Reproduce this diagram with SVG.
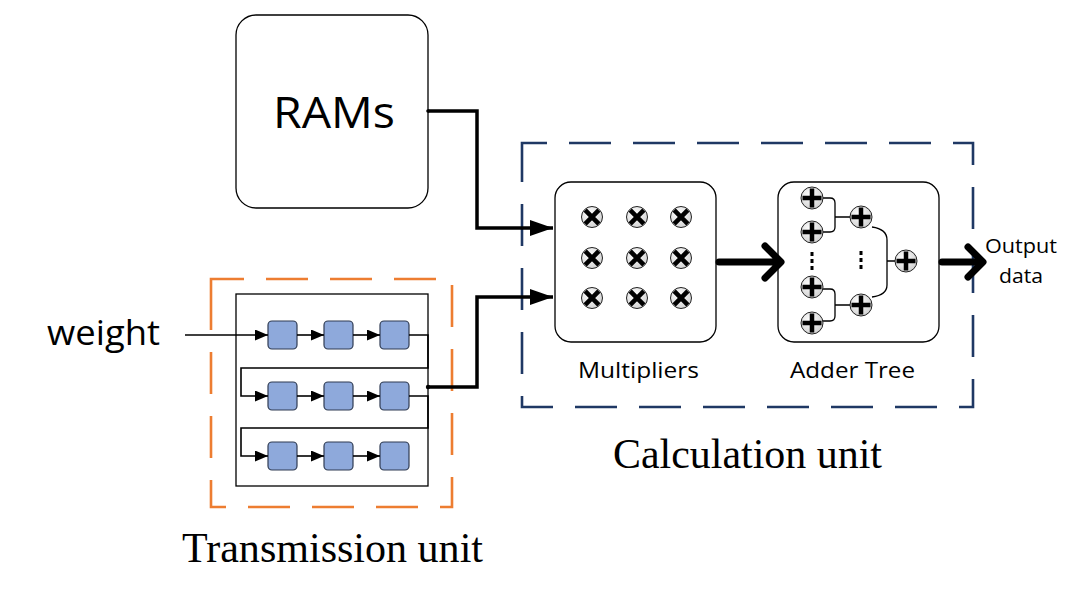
<svg xmlns="http://www.w3.org/2000/svg" width="1074" height="589" viewBox="0 0 1074 589">
<style>
.sans{font-family:"Open Sans","Noto Sans","Liberation Sans",sans-serif;fill:#000}
.serif{font-family:"Liberation Serif","Times New Roman",serif;fill:#000}
.box{fill:#fff;stroke:#000;stroke-width:1.3}
.reg{fill:#8EA9DB;stroke:#2F3B52;stroke-width:1.2}
.thin{fill:none;stroke:#000;stroke-width:1.6}
.mid{fill:none;stroke:#000;stroke-width:3.5}
.thick{fill:none;stroke:#000;stroke-width:7;stroke-linecap:round;stroke-linejoin:round}
.tree{fill:none;stroke:#000;stroke-width:1.3}
.dash-blue{fill:none;stroke:#1F3864;stroke-width:2.6;stroke-dasharray:42 22}
.dash-orange{fill:none;stroke:#ED7D31;stroke-width:2.6;stroke-dasharray:42 22}
</style>
<defs>
<radialGradient id="cg" cx="0.4" cy="0.35" r="0.7">
<stop offset="0" stop-color="#ffffff"/>
<stop offset="1" stop-color="#d0d0d0"/>
</radialGradient>
<marker id="ah-big" markerUnits="userSpaceOnUse" markerWidth="24" markerHeight="18" refX="23" refY="8" orient="auto">
<path d="M0,0 L23,8 L0,16 z" fill="#000"/>
</marker>
<marker id="ah-small" markerUnits="userSpaceOnUse" markerWidth="14" markerHeight="12" refX="13" refY="5.5" orient="auto">
<path d="M0,0 L13,5.5 L0,11 z" fill="#000"/>
</marker>
<g id="mul">
<circle r="10.5" fill="url(#cg)" stroke="#222" stroke-width="1"/>
<path d="M-6.8,-6.8 L6.8,6.8 M6.8,-6.8 L-6.8,6.8" stroke="#000" stroke-width="4.6" stroke-linecap="butt"/>
</g>
<g id="add">
<circle r="11" fill="url(#cg)" stroke="#222" stroke-width="1"/>
<path d="M-9.5,0 L9.5,0 M0,-9.5 L0,9.5" stroke="#000" stroke-width="4.5"/>
</g>
</defs>
<rect width="1074" height="589" fill="#fff"/>

<g id="calculation-unit">
<path class="dash-blue" d="M522,160 L522,143 L973,143 L973,407 L522,407 Z"/>
<text class="serif" x="613" y="468" font-size="42" textLength="269" lengthAdjust="spacingAndGlyphs">Calculation unit</text>
</g>

<g id="transmission-unit">
<path class="dash-orange" d="M211,288 L211,507 L452,507 L452,279 L211,279 Z"/>
<text class="serif" x="182" y="562" font-size="42" textLength="301" lengthAdjust="spacingAndGlyphs">Transmission unit</text>
</g>

<g id="rams">
<rect class="box" x="236" y="15" width="192" height="193" rx="20"/>
<text class="sans" x="334" y="128" font-size="44" text-anchor="middle" textLength="122" lengthAdjust="spacingAndGlyphs">RAMs</text>
</g>

<g id="weight-label">
<text class="sans" x="47" y="345" font-size="35" textLength="113" lengthAdjust="spacingAndGlyphs">weight</text>
</g>

<g id="shift-array">
<rect class="box" x="236" y="294" width="192" height="192" rx="0"/>
<rect class="reg" x="268" y="321" width="29" height="28" rx="4"/>
<rect class="reg" x="324" y="321" width="29" height="28" rx="4"/>
<rect class="reg" x="380" y="321" width="29" height="28" rx="4"/>
<rect class="reg" x="268" y="382" width="29" height="28" rx="4"/>
<rect class="reg" x="324" y="382" width="29" height="28" rx="4"/>
<rect class="reg" x="380" y="382" width="29" height="28" rx="4"/>
<rect class="reg" x="268" y="442" width="29" height="28" rx="4"/>
<rect class="reg" x="324" y="442" width="29" height="28" rx="4"/>
<rect class="reg" x="380" y="442" width="29" height="28" rx="4"/>
</g>

<g id="multipliers">
<rect class="box" x="555" y="182" width="161" height="160" rx="16"/>
<use href="#mul" x="592" y="217"/>
<use href="#mul" x="637" y="217"/>
<use href="#mul" x="681" y="217"/>
<use href="#mul" x="592" y="258"/>
<use href="#mul" x="637" y="258"/>
<use href="#mul" x="681" y="258"/>
<use href="#mul" x="592" y="298"/>
<use href="#mul" x="637" y="298"/>
<use href="#mul" x="681" y="298"/>
<text class="sans" x="578" y="378" font-size="21.5" textLength="121" lengthAdjust="spacingAndGlyphs">Multipliers</text>
</g>

<g id="adder-tree">
<rect class="box" x="778" y="182" width="161" height="160" rx="16"/>
<path class="tree" d="M823,198 L830,198 Q835,198 835,203 L835,227 Q835,232 830,232 L823,232 M835,217 L851,217"/>
<path class="tree" d="M823,289 L830,289 Q835,289 835,294 L835,316 Q835,321 830,321 L823,321 M835,305 L851,305"/>
<path class="tree" d="M872,227 Q887,229 887,240 L887,285 Q887,295 872,297 M887,261 L896,261"/>
<use href="#add" x="812" y="198"/>
<use href="#add" x="812" y="232"/>
<use href="#add" x="812" y="287"/>
<use href="#add" x="812" y="323"/>
<use href="#add" x="861" y="217"/>
<use href="#add" x="861" y="305"/>
<use href="#add" x="906" y="261"/>
<g fill="#000">
<rect x="810.5" y="252" width="3" height="4"/>
<rect x="810.5" y="259" width="3" height="4"/>
<rect x="810.5" y="266" width="3" height="4"/>
<rect x="859.5" y="251" width="3" height="4"/>
<rect x="859.5" y="258" width="3" height="4"/>
<rect x="859.5" y="265" width="3" height="4"/>
</g>
<text class="sans" x="790" y="378" font-size="21.5" textLength="125" lengthAdjust="spacingAndGlyphs">Adder Tree</text>
</g>

<g id="output-label">
<text class="sans" x="985" y="253" font-size="20" textLength="72" lengthAdjust="spacingAndGlyphs">Output</text>
<text class="sans" x="999" y="283" font-size="20" textLength="44" lengthAdjust="spacingAndGlyphs">data</text>
</g>

<g id="connectors">
<path class="mid" d="M428,111 L477,111 L477,228 L553,228" marker-end="url(#ah-big)"/>
<path class="mid" d="M427,387 L477,387 L477,297 L553,297" marker-end="url(#ah-big)"/>
<circle cx="428" cy="387" r="2.2" fill="#000"/>
<circle cx="428" cy="111" r="1.8" fill="#000"/>
<path class="thin" d="M185,335 L268,335" marker-end="url(#ah-small)"/>
<path class="thin" d="M297,335 L324,335" marker-end="url(#ah-small)"/>
<path class="thin" d="M353,335 L380,335" marker-end="url(#ah-small)"/>
<path class="thin" d="M409,335 L428,335 L428,368 L241,368 L241,396 L268,396" marker-end="url(#ah-small)"/>
<path class="thin" d="M297,396 L324,396" marker-end="url(#ah-small)"/>
<path class="thin" d="M353,396 L380,396" marker-end="url(#ah-small)"/>
<path class="thin" d="M409,396 L428,396 L428,428 L241,428 L241,456 L268,456" marker-end="url(#ah-small)"/>
<path class="thin" d="M297,456 L324,456" marker-end="url(#ah-small)"/>
<path class="thin" d="M353,456 L380,456" marker-end="url(#ah-small)"/>
<path class="thick" d="M719,262 L778,262 M765,246 L781,262 L765,278"/>
<path class="thick" d="M942,262 L982,262 M968,247 L983,262 L968,277"/>
</g>
</svg>
